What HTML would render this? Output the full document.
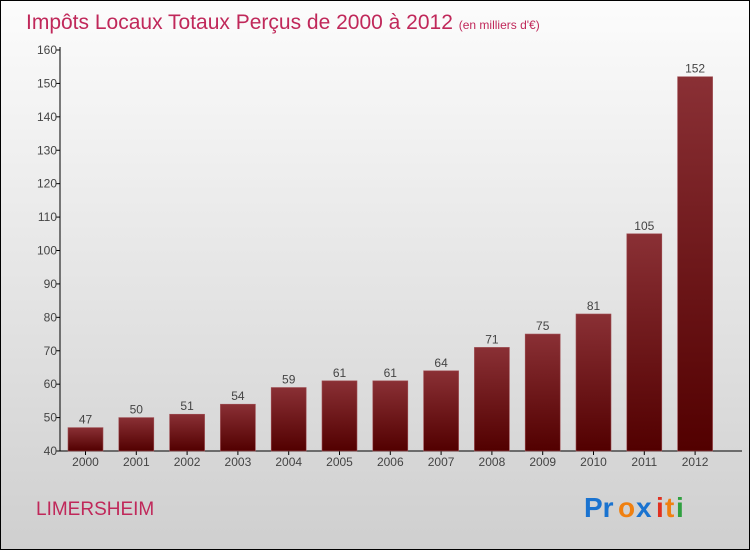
<!DOCTYPE html>
<html><head><meta charset="utf-8"><style>
body{margin:0}
#c{width:750px;height:550px;position:relative;overflow:hidden}
svg text{font-family:"Liberation Sans",sans-serif}
</style></head><body>
<div id="c">
<svg id="s" width="750" height="550" xmlns="http://www.w3.org/2000/svg">
<defs>
<linearGradient id="bg" x1="0" y1="0" x2="0" y2="1"><stop offset="0" stop-color="#fcfcfc"/><stop offset="1" stop-color="#cfcfcf"/></linearGradient>
<linearGradient id="bar" x1="0" y1="0" x2="0" y2="1"><stop offset="0" stop-color="#8a3035"/><stop offset="1" stop-color="#520000"/></linearGradient>
</defs>
<rect x="0.5" y="0.5" width="749" height="549" fill="url(#bg)" stroke="#000" stroke-width="1"/>
<text x="26" y="29" font-size="21" fill="#c0285a">Impôts Locaux Totaux Perçus de 2000 à 2012 <tspan font-size="12">(en milliers d'€)</tspan></text>
<g id="ax"></g><g id="bars"></g>
<text x="36" y="515" font-size="19" fill="#c0285a">LIMERSHEIM</text>
<g font-size="28" font-weight="bold" font-family="Liberation Sans">
<text x="584" y="517" fill="#1a73d0">Pr</text><text x="618" y="517" fill="#f08010">o</text><text x="636" y="517" fill="#1a73d0">x</text><text x="656" y="517" fill="#e03020">i</text><text x="665" y="517" fill="#f08010">t</text><text x="676" y="517" fill="#30a040">i</text>
</g>
</svg></div>
<script>
const years=["2000","2001","2002","2003","2004","2005","2006","2007","2008","2009","2010","2011","2012"];
const values=[47,50,51,54,59,61,61,64,71,75,81,105,152];
const ticks=[40,50,60,70,80,90,100,110,120,130,140,150,160];
const NS="http://www.w3.org/2000/svg";
const x0=60,x1=722,yTop=50,yBot=451,vMin=40,vMax=160;
const y=v=>yBot-(v-vMin)/(vMax-vMin)*(yBot-yTop);
const step=50.8,bw=35;
const cx=i=>85.5+i*step;
function mk(t,a,p){const e=document.createElementNS(NS,t);for(const k in a)e.setAttribute(k,a[k]);p.appendChild(e);return e;}
const ax=document.getElementById('ax'),bg=document.getElementById('bars');
let l=mk('line',{x1:x0,y1:yTop-3,x2:x0,y2:yBot,stroke:'#000'},ax);


l=mk('line',{x1:x0,y1:yBot,x2:x1+20,y2:yBot,stroke:'#000'},ax);


ticks.forEach(t=>{
 mk('line',{x1:x0-4,y1:y(t),x2:x0,y2:y(t),stroke:'#000'},ax);
 const tx=mk('text',{x:x0-3,y:y(t)+4,'font-size':12,fill:'#444','text-anchor':'end'},ax);
 tx.textContent=t;
 
 
});
years.forEach((yr,i)=>{
 mk('line',{x1:cx(i),y1:yBot,x2:cx(i),y2:yBot+4,stroke:'#000'},ax);
 const t=mk('text',{x:cx(i),y:yBot+15,'font-size':12,fill:'#444','text-anchor':'middle'},ax);
 t.textContent=yr;
 
 
 const r=mk('rect',{x:cx(i)-bw/2,y:y(values[i]),width:bw,height:yBot-y(values[i]),fill:'url(#bar)',stroke:'#a05055','stroke-width':0.6},bg);
 
 
 const v=mk('text',{x:cx(i),y:y(values[i])-4,'font-size':12,fill:'#444','text-anchor':'middle'},bg);
 v.textContent=values[i];
 
 
});
</script>
</body></html>
